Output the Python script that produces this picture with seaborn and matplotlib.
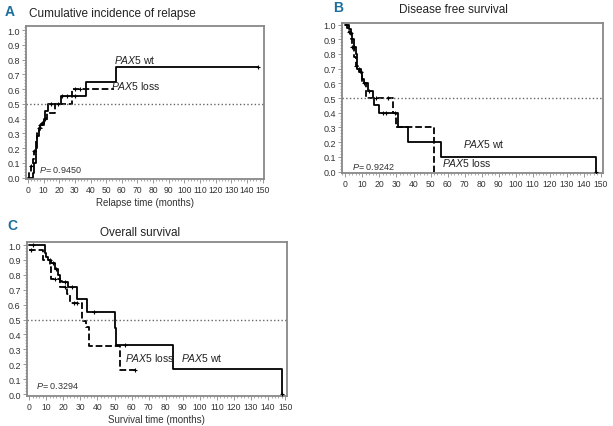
import matplotlib
matplotlib.use("Agg")
import matplotlib.pyplot as plt
import seaborn as sns
from matplotlib.ticker import MultipleLocator

sns.set_style("white")
plt.rcParams['font.family'] = ['Liberation Sans', 'DejaVu Sans']
plt.rcParams['mathtext.fontset'] = 'custom'
plt.rcParams['mathtext.it'] = 'Liberation Sans:italic'
plt.rcParams['mathtext.rm'] = 'Liberation Sans'

# A: cumulative incidence of relapse
a_wt_t = [0, 3, 4, 5, 6, 7, 8, 10, 11, 13, 21, 37, 56, 147]
a_wt_v = [0, 0.03, 0.1, 0.2, 0.28, 0.32, 0.36, 0.4, 0.45, 0.5, 0.55, 0.65, 0.75, 0.75]
a_loss_t = [0, 1, 2, 3, 4, 5, 6, 7, 9, 10, 12, 17, 28, 55]
a_loss_v = [0, 0.04, 0.08, 0.13, 0.18, 0.25, 0.3, 0.34, 0.37, 0.4, 0.44, 0.5, 0.6, 0.6]
a_wt_cens = [8, 15, 22, 25, 30, 147]
a_loss_cens = [2, 4, 7, 9, 11, 19, 30, 33]

# B: disease free survival
b_wt_t = [0, 2, 3, 4, 5, 6, 7, 9, 10, 11, 13, 16, 17, 20, 31, 37, 56, 147]
b_wt_v = [1.0, 0.97, 0.94, 0.9, 0.85, 0.8, 0.7, 0.67, 0.63, 0.6, 0.55, 0.5, 0.45, 0.4, 0.3, 0.2, 0.1, 0.0]
b_loss_t = [0, 1, 2, 3, 4, 5, 6, 8, 10, 12, 28, 30, 52]
b_loss_v = [1.0, 0.98, 0.95, 0.9, 0.85, 0.78, 0.72, 0.68, 0.6, 0.5, 0.4, 0.3, 0.0]
b_wt_cens = [3, 5, 8, 11, 14, 22, 24, 147]
b_loss_cens = [2, 4, 6, 9, 18, 25, 29]

# C: overall survival
c_wt_t = [0, 9, 10, 11, 13, 15, 17, 18, 19, 20, 23, 28, 34, 50, 51, 84, 148]
c_wt_v = [1.0, 0.95, 0.92, 0.9, 0.88, 0.84, 0.8, 0.76, 0.75, 0.75, 0.72, 0.64, 0.55, 0.44, 0.33, 0.165, 0.0]
c_loss_t = [0, 8, 12, 13, 18, 22, 24, 31, 33, 35, 53, 62]
c_loss_v = [0.97, 0.9, 0.85, 0.77, 0.72, 0.67, 0.61, 0.49, 0.45, 0.32, 0.16, 0.16]
c_wt_cens = [2, 12, 14, 16, 21, 25, 38, 56, 148]
c_loss_cens = [1, 15, 21, 26, 28, 62]

panels = [
    dict(key='A', title='Cumulative incidence of relapse', xlabel='Relapse time (months)',
         wt=(a_wt_t, a_wt_v, a_wt_cens), loss=(a_loss_t, a_loss_v, a_loss_cens),
         rect=[0.043, 0.578, 0.388, 0.358], xlim=(-1, 151), ylim=(-0.01, 1.025),
         pval='0.9450', ptxt=(7, 0.04), wt_txt=(55, 0.78), loss_txt=(53, 0.6),
         title_xy=(112, 14), label_xy=(5, 12)),
    dict(key='B', title='Disease free survival', xlabel='',
         wt=(b_wt_t, b_wt_v, b_wt_cens), loss=(b_loss_t, b_loss_v, b_loss_cens),
         rect=[0.558, 0.5925, 0.426, 0.351], xlim=(-2, 151.5), ylim=(-0.01, 1.01),
         pval='0.9242', ptxt=(4, 0.02), wt_txt=(69, 0.17), loss_txt=(57, 0.04),
         title_xy=(453, 10), label_xy=(333, 8)),
    dict(key='C', title='Overall survival', xlabel='Survival time (months)',
         wt=(c_wt_t, c_wt_v, c_wt_cens), loss=(c_loss_t, c_loss_v, c_loss_cens),
         rect=[0.044, 0.071, 0.424, 0.359], xlim=(-1.3, 151), ylim=(-0.011, 1.018),
         pval='0.3294', ptxt=(4, 0.04), wt_txt=(89, 0.22), loss_txt=(56, 0.22),
         title_xy=(140, 233), label_xy=(7, 226)),
]

W, H = 613, 427
fig = plt.figure(figsize=(W / 100, H / 100), dpi=100)


def step_value(ts, vs, x):
    val = vs[0]
    for t, v in zip(ts, vs):
        if t <= x:
            val = v
    return val


for p in panels:
    ax = fig.add_axes(p['rect'])
    for grp, ls in (('wt', '-'), ('loss', '--')):
        ts, vs, cens = p[grp]
        sns.lineplot(x=ts, y=vs, ax=ax, estimator=None, sort=False,
                     drawstyle='steps-post', color='black', linestyle=ls, lw=1.3)
        cy = [step_value(ts, vs, c) for c in cens]
        ax.scatter(cens, cy, marker='+', s=12, color='black', lw=0.8, zorder=3)
    ax.axhline(0.5, color='#666666', ls=':', lw=1.0)
    ax.set_xlim(*p['xlim'])
    ax.set_ylim(*p['ylim'])
    ax.set_xticks(range(0, 151, 10))
    ax.set_yticks([i / 10 for i in range(11)])
    ax.set_yticklabels([f'{i / 10:.1f}' for i in range(11)])
    ax.xaxis.set_minor_locator(MultipleLocator(2))
    ax.yaxis.set_minor_locator(MultipleLocator(0.02))
    ax.tick_params(axis='both', which='major', labelsize=6.5, length=3, width=0.6,
                   colors='#888888', labelcolor='#333333', pad=1.5,
                   bottom=True, left=True)
    ax.tick_params(axis='x', which='major', labelsize=6.2)
    ax.tick_params(axis='both', which='minor', length=1.5, width=0.5,
                   colors='#888888', bottom=True, left=True)
    for s in ax.spines.values():
        s.set_color('#888888')
        s.set_linewidth(1.3)
    ax.set_xlabel(p['xlabel'], fontsize=7, color='#333333', labelpad=2)
    ax.set_ylabel('')
    ax.text(*p['ptxt'], f'$P$= {p["pval"]}', fontsize=6.5, color='#333333')
    ax.text(*p['wt_txt'], r'$\mathit{PAX5}$ wt', fontsize=7.5, color='#222222')
    ax.text(*p['loss_txt'], r'$\mathit{PAX5}$ loss', fontsize=7.5, color='#222222')
    tx, ty = p['title_xy']
    fig.text(tx / W, 1 - ty / H, p['title'], ha='center', va='center',
             fontsize=8.5, color='#222222')
    lx, ly = p['label_xy']
    fig.text(lx / W, 1 - ly / H, p['key'], ha='left', va='center',
             fontsize=10, fontweight='bold', color='#1b6e9c')

fig.savefig('out.png', dpi=100)
